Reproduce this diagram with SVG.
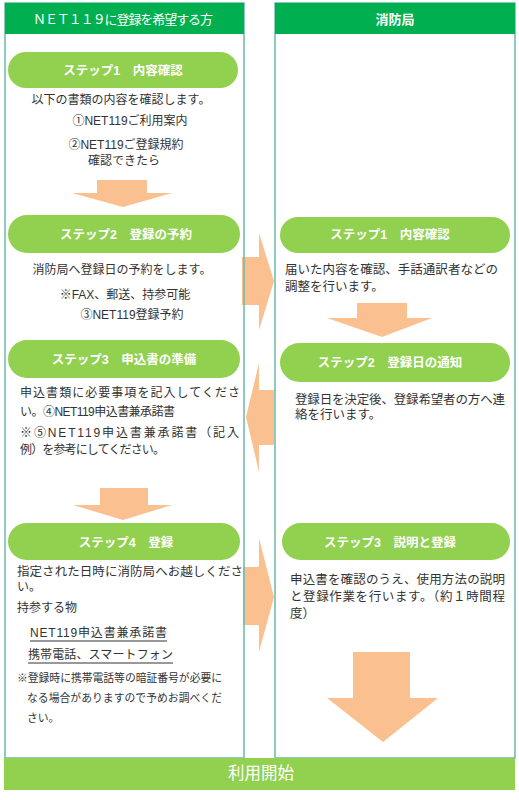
<svg xmlns="http://www.w3.org/2000/svg" width="519" height="800" viewBox="0 0 519 800">
<style>
.col{fill:#fff;stroke:#6bb9aa;stroke-width:1.5}
.hdr{fill:#00b050}
.pill{fill:#92d050}
.arr{fill:#fac090}
.ht{fill:#fff;font-family:"Liberation Sans","Noto Sans CJK JP",sans-serif;font-size:14px;text-anchor:middle}
.pt{fill:#fff;font-family:"Liberation Sans","Noto Sans CJK JP",sans-serif;font-size:12.5px;font-weight:bold;text-anchor:middle}
.bt{fill:#333;font-family:"Liberation Sans","Noto Sans CJK JP",sans-serif;font-size:12px}
.c{text-anchor:middle}
.sm{font-size:10.8px}
.ul{stroke:#333;stroke-width:1}
</style>
<rect width="519" height="800" fill="#fff"/>
<g id="arrows">
<polygon class="arr" points="97,180 147,180 147,193 172,193 123,207 72,193 97,193"/>
<polygon class="arr" points="100,488 148,488 148,505 172,505 123,520 73,505 100,505"/>
<polygon class="arr" points="357,303 407,303 407,318 432,318 382,337 327,318 357,318"/>
<polygon class="arr" points="353,652 410,652 410,698 438,698 383,742 327,698 353,698"/>
<polygon class="arr" points="242,257 259,257 259,233 274,281 259,330 259,305 242,305"/>
<polygon class="arr" points="274,390 259,390 259,363 246,417 259,472 259,445 274,445"/>
<polygon class="arr" points="243,567 259,567 259,538 274,597 259,652 259,625 243,625"/>
</g>
<g id="col-left">
<rect class="col" x="5" y="3" width="239" height="755" fill-opacity="0"/>
<rect class="hdr" x="5" y="3" width="239" height="31"/>
<text class="ht" x="33" y="24" style="text-anchor:start;font-size:13px" textLength="180" lengthAdjust="spacing">ＮＥＴ１１９に登録を希望する方</text>
</g>
<g id="col-right">
<rect class="col" x="275" y="3" width="240" height="755" fill-opacity="0"/>
<rect class="hdr" x="275" y="3" width="240" height="31"/>
<text class="ht" x="395" y="24" style="font-weight:bold;font-size:13px">消防局</text>
</g>
<g id="l-step1">
<rect class="pill" x="8" y="52" width="230" height="36" rx="18"/>
<text class="pt" x="123" y="75">ステップ1　内容確認</text>
<text class="bt c" x="121" y="104">以下の書類の内容を確認します。</text>
<text class="bt c" x="130" y="125">①NET119ご利用案内</text>
<text class="bt c" x="126" y="149">②NET119ご登録規約</text>
<text class="bt c" x="124" y="165">確認できたら</text>
</g>
<g id="l-step2">
<rect class="pill" x="8" y="215" width="232" height="38" rx="19"/>
<text class="pt" x="126" y="239">ステップ2　登録の予約</text>
<text class="bt c" x="122" y="274">消防局へ登録日の予約をします。</text>
<text class="bt c" x="125" y="299">※FAX、郵送、持参可能</text>
<text class="bt c" x="132" y="319">③NET119登録予約</text>
</g>
<g id="l-step3">
<rect class="pill" x="8" y="340" width="232" height="38" rx="19"/>
<text class="pt" x="124" y="364">ステップ3　申込書の準備</text>
<text class="bt" x="20" y="397" textLength="220" lengthAdjust="spacing">申込書類に必要事項を記入してくださ</text>
<text class="bt" x="20" y="416" textLength="155" lengthAdjust="spacing">い。④NET119申込書兼承諾書</text>
<text class="bt" x="20" y="437" textLength="219" lengthAdjust="spacing">※⑤NET119申込書兼承諾書（記入</text>
<text class="bt" x="20" y="454" textLength="145" lengthAdjust="spacing">例）を参考にしてください。</text>
</g>
<g id="l-step4">
<rect class="pill" x="8" y="523" width="232" height="37" rx="18.5"/>
<text class="pt" x="126" y="547">ステップ4　登録</text>
<text class="bt" x="17" y="576" textLength="226" lengthAdjust="spacing" style="font-size:12.5px">指定された日時に消防局へお越しくださ</text>
<text class="bt" x="17" y="591">い。</text>
<text class="bt" x="17" y="612">持参する物</text>
<text class="bt" x="30" y="637" textLength="137" lengthAdjust="spacing">NET119申込書兼承諾書</text>
<line class="ul" x1="30" y1="641" x2="167" y2="641"/>
<text class="bt" x="28" y="659" textLength="145" lengthAdjust="spacing">携帯電話、スマートフォン</text>
<line class="ul" x1="28" y1="663" x2="173" y2="663"/>
<text class="bt sm" x="17" y="682" textLength="205" lengthAdjust="spacing">※登録時に携帯電話等の暗証番号が必要に</text>
<text class="bt sm" x="27" y="702" textLength="195" lengthAdjust="spacing">なる場合がありますので予めお調べくだ</text>
<text class="bt sm" x="27" y="722">さい。</text>
</g>
<g id="r-step1">
<rect class="pill" x="280" y="217" width="230" height="36" rx="18"/>
<text class="pt" x="390" y="239">ステップ1　内容確認</text>
<text class="bt" x="285" y="274" textLength="213" lengthAdjust="spacing" style="font-size:12.5px">届いた内容を確認、手話通訳者などの</text>
<text class="bt" x="285" y="291" style="font-size:12.5px">調整を行います。</text>
</g>
<g id="r-step2">
<rect class="pill" x="280" y="343" width="230" height="39" rx="19.5"/>
<text class="pt" x="390" y="367">ステップ2　登録日の通知</text>
<text class="bt" x="295" y="404" textLength="210" lengthAdjust="spacing" style="font-size:12.5px">登録日を決定後、登録希望者の方へ連</text>
<text class="bt" x="295" y="419" style="font-size:12.5px">絡を行います。</text>
</g>
<g id="r-step3">
<rect class="pill" x="282" y="523" width="228" height="37" rx="18.5"/>
<text class="pt" x="390" y="547">ステップ3　説明と登録</text>
<text class="bt" x="290" y="584" textLength="215" lengthAdjust="spacing" style="font-size:12.5px">申込書を確認のうえ、使用方法の説明</text>
<text class="bt" x="290" y="601" textLength="215" lengthAdjust="spacing" style="font-size:12.5px">と登録作業を行います。（約１時間程</text>
<text class="bt" x="290" y="618" style="font-size:12.5px">度）</text>
</g>
<g id="start">
<rect class="pill" x="4" y="758" width="511" height="32"/>
<text class="ht" x="261" y="779" style="font-size:16.5px">利用開始</text>
</g>
</svg>
